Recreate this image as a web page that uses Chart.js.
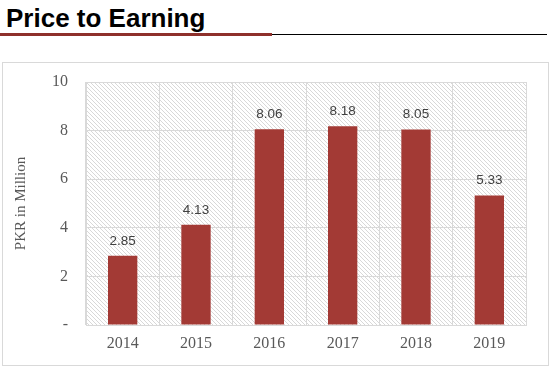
<!DOCTYPE html>
<html>
<head>
<meta charset="utf-8">
<script src="https://cdn.jsdelivr.net/npm/chart.js@4"></script>
<style>
  body { margin: 0; background: #fff; width: 552px; height: 371px; position: relative; overflow: hidden; }
  #title { position: absolute; left: 6px; top: 3px; font: bold 26px "Liberation Sans", Arial, sans-serif; color: #000; }
  #redLine { position: absolute; left: 0; top: 33px; width: 272px; height: 3px; background: #8e302b; }
  #blackLine { position: absolute; left: 272px; top: 34px; width: 275px; height: 1px; background: #000; }
  #box { position: absolute; left: 2px; top: 62px; width: 545px; height: 302px; border: 1px solid #d9d9d9; }
</style>
</head>
<body>
<div id="title">Price to Earning</div>
<div id="redLine"></div>
<div id="blackLine"></div>
<div id="box"><canvas id="peChart"></canvas></div>
<script>
// valeurs
const years = ['2014', '2015', '2016', '2017', '2018', '2019'];
const peValues = [2.85, 4.13, 8.06, 8.18, 8.05, 5.33];
const yTicks = [0, 2, 4, 6, 8, 10];

// motif de hachures (petite tuile 4x4)
function makeHatch(ctx) {
    const tile = document.createElement('canvas');
    tile.width = 4;
    tile.height = 4;
    const t = tile.getContext('2d');
    t.fillStyle = '#d8d8d8';
    for (let i = 0; i < 4; i++) t.fillRect(i, i, 1, 1);
    return ctx.createPattern(tile, 'repeat');
}

// fond hachuré de la zone de tracé
const hatchPlugin = {
    id: 'hatch',
    beforeDraw(chart) {
        const { ctx, chartArea: a } = chart;
        ctx.save();
        ctx.fillStyle = makeHatch(ctx);
        ctx.fillRect(a.left, a.top, a.right - a.left, a.bottom - a.top);
        ctx.restore();
    }
};

// étiquettes de valeurs au-dessus des barres
const valueLabels = {
    id: 'valueLabels',
    afterDatasetsDraw(chart) {
        const ctx = chart.ctx;
        const meta = chart.getDatasetMeta(0);
        ctx.save();
        ctx.font = '13.5px "Liberation Sans", Arial, sans-serif';
        ctx.fillStyle = '#404040';
        ctx.textAlign = 'center';
        ctx.textBaseline = 'alphabetic';
        meta.data.forEach((bar, i) => {
            ctx.fillText(peValues[i].toFixed(2), bar.x, bar.y - 11);
        });
        ctx.restore();
    }
};

new Chart(document.getElementById('peChart'), {
    type: 'bar',
    data: {
        labels: years,
        datasets: [{
            data: peValues,
            backgroundColor: '#a33a35',
            barPercentage: 0.4,
            categoryPercentage: 1.0
        }]
    },
    options: {
        responsive: true,
        maintainAspectRatio: false,
        animation: false,
        layout: { padding: { top: 19, right: 22, bottom: 0, left: 0 } },
        plugins: { legend: { display: false }, tooltip: { enabled: false } },
        scales: {
            x: {
                afterFit(scale) { scale.height = 40; },
                grid: { color: '#d9d9d9', drawTicks: false, offset: true },
                border: { color: '#d9d9d9' },
                ticks: {
                    padding: 9,
                    color: '#595959',
                    font: { family: '"Liberation Serif", "DejaVu Serif", serif', size: 16 }
                }
            },
            y: {
                min: 0,
                max: 10,
                afterFit(scale) {
                    scale.width = 83;
                    scale.paddingTop = 0;
                    scale.paddingBottom = 0;
                },
                afterBuildTicks(scale) { scale.ticks = yTicks.map(v => ({ value: v })); },
                grid: { color: '#d9d9d9', drawTicks: false },
                border: { color: '#d9d9d9' },
                ticks: {
                    padding: 18,
                    color: '#595959',
                    font: { family: '"Liberation Serif", "DejaVu Serif", serif', size: 16 },
                    callback: v => v === 0 ? '-' : v
                },
                title: {
                    display: true,
                    text: 'PKR in Million',
                    color: '#595959',
                    padding: { top: 9, bottom: 0 },
                    font: { family: '"Liberation Serif", "DejaVu Serif", serif', size: 15 }
                }
            }
        }
    },
    plugins: [hatchPlugin, valueLabels]
});
</script>
</body>
</html>
